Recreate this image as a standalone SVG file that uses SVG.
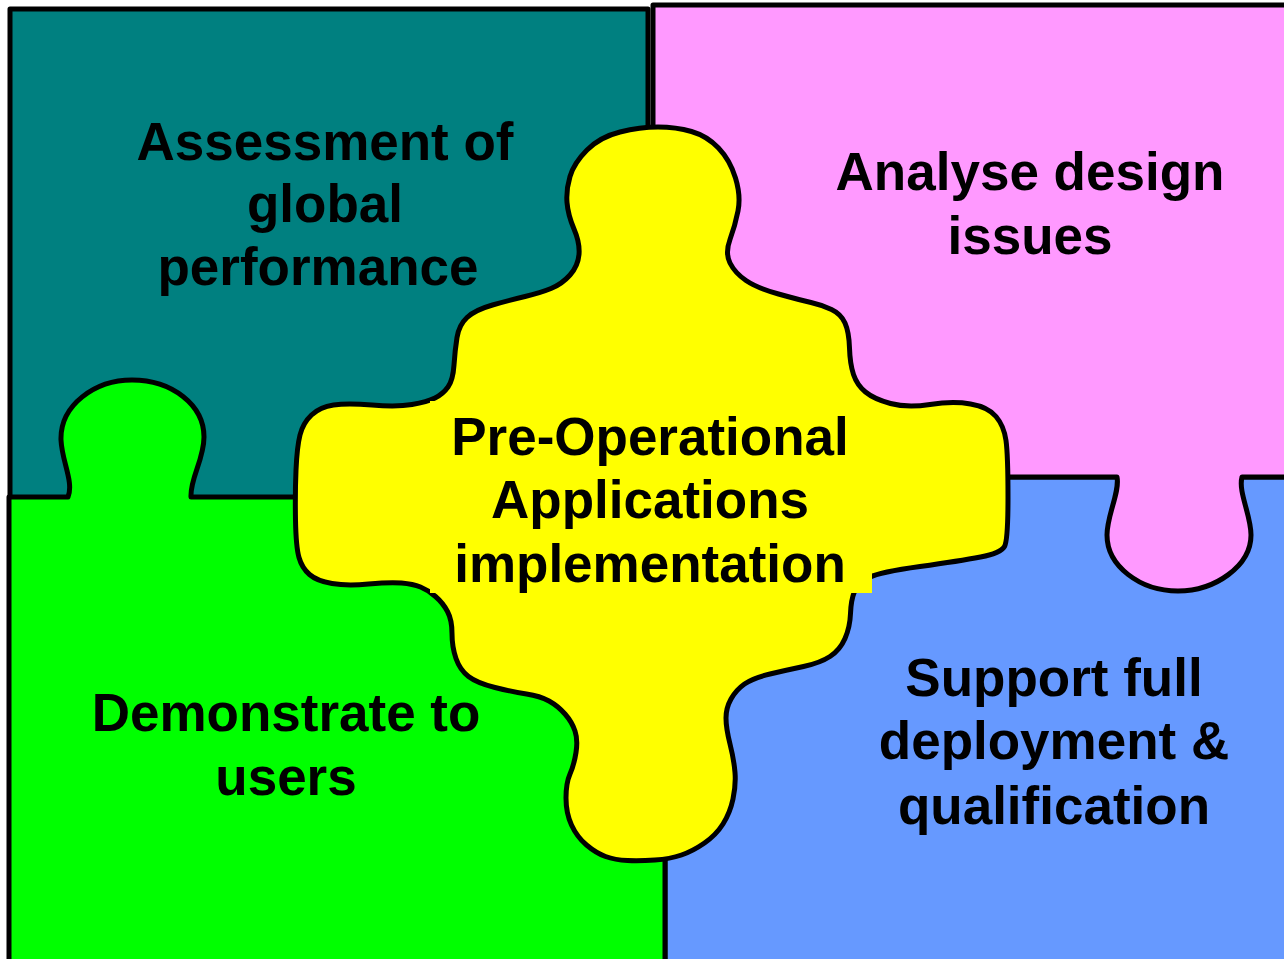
<svg xmlns="http://www.w3.org/2000/svg" width="1284" height="959" viewBox="0 0 1284 959">
<style>
.piece{stroke:#000;stroke-width:5;stroke-linejoin:round}
.lbl{font-family:"Liberation Sans",Arial,sans-serif;font-weight:bold;font-size:53px;fill:#000;text-anchor:middle}
</style>
<rect width="1284" height="959" fill="#fff"/>
<g id="assessment">
<rect class="piece" x="10" y="9" width="638" height="492" fill="#008080"/>
<text class="lbl" x="325" y="160">Assessment of</text>
<text class="lbl" x="325" y="222">global</text>
<text class="lbl" x="318" y="285">performance</text>
</g>
<g id="support">
<path class="piece" d="M665,477 L1295,477 L1295,970 L665,970 Z" fill="#6699FF"/>
<text class="lbl" x="1054" y="696">Support full</text>
<text class="lbl" x="1054" y="759">deployment &amp;</text>
<text class="lbl" x="1054" y="824">qualification</text>
</g>
<g id="analyse">
<path class="piece" d="M653,5 L1295,5 L1295,477 L1242,477 C1238,492 1251,515 1251,535 C1251,566 1215,591 1178,591 C1140,591 1107,566 1107,535 C1107,515 1120,492 1117,477 L653,477 Z" fill="#FF99FF"/>
<text class="lbl" x="1030" y="190">Analyse design</text>
<text class="lbl" x="1030" y="254">issues</text>
</g>
<g id="demonstrate">
<path class="piece" d="M9,497 L68,497 C74,482 62,462 61,440 C60,405 95,380 132,380 C172,380 204,405 204,437 C204,460 190,478 191,497 L665,497 L665,970 L9,970 Z" fill="#00FF00"/>
<text class="lbl" x="286" y="731">Demonstrate to</text>
<text class="lbl" x="286" y="795">users</text>
</g>
<g id="preoperational">
<path class="piece" fill="#FFFF00" d="M525,296.5 Q540,293 551,288.5 T570,275 T579,254.5 T574,229 T567,202.5 T570,176.5 T587,150 T620,132 T658,127 T691.5,131.5 T718.5,148 T735.5,178 T738,211 T730,239.5 T730,263 T746,280.5 T778.5,294 T811,302.5 T831.5,309.5 T845,323 T849.5,348 T853.5,374.5 T865.5,392 T890.5,403.5 T930,404.5 T970.5,404 T996,416.5 T1006,440.5 T1008,497.5 T1004.5,546.5 T980.5,557 T920,566.5 T869,577.5 T854.5,591.5 T850.5,613.5 T845,638.5 T830,656.5 T803.5,666.5 T770,674 T744.5,684 T731,699 T726,718 T730,744 T735,772.5 T733,799 T723,824 T704.5,843 T681.5,855 T655,860 T627.5,860.5 T605.5,856.5 T586.5,845 T571.5,825 T566,798 T570,774 T576,752.5 T575,731 T565,714 T549,701 T526.5,694 T495,687.5 T468.5,676.5 T456,658.5 T452,633.5 T447.5,611.5 T435.5,596.5 T420.5,587 T401.5,583 T368.5,584 T332,583.5 T309.5,574.5 T299,557.5 T295.5,520 T296,470 T300,435 T311.5,415 T333.5,405 T372,405 T412,404.5 T435,398 T448,387 T454,365 T457,337.5 T467,317.5 T492.5,305 T525,296.5 Z"/>
<rect x="430" y="401" width="442" height="192" fill="#FFFF00"/>
<text class="lbl" x="650" y="455">Pre-Operational</text>
<text class="lbl" x="650" y="518">Applications</text>
<text class="lbl" x="650" y="582">implementation</text>
</g>
</svg>
